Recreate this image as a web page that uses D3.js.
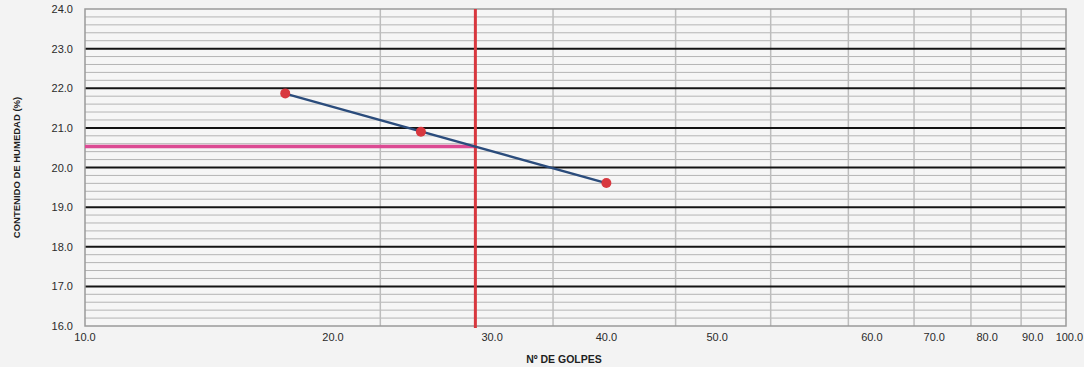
<!DOCTYPE html>
<html>
<head>
<meta charset="utf-8">
<script src="https://cdn.jsdelivr.net/npm/d3@7"></script>
<style>
  html, body { margin: 0; padding: 0; background: #f3f3f3; }
  svg { display: block; font-family: "Liberation Sans", Arial, sans-serif; }
</style>
</head>
<body>
<div id="chart"></div>
<script>
const chartEl = "#chart";
const width = 1084;
const height = 367;
const margin = { top: 9, right: 18, bottom: 41, left: 85 };

// Ensayo de limite liquido: golpes vs contenido de humedad
const golpes = [16, 22, 34];
const humedad = [21.87, 20.9, 19.61];
const golpesLimite = 25;  // vertical reference at 25 blows

// axis setup
const xDomain = [10, 100];
const yDomain = [16, 24];
const xGrid = [20, 30, 40, 50, 60, 70, 80, 90];
const yMajor = [17, 18, 19, 20, 21, 22, 23];
const yTicks = [16, 17, 18, 19, 20, 21, 22, 23, 24];
// the x tick labels in the original sit off the log gridlines;
// these are where each label appears along the log axis
const xTickLabels = ["10.0", "20.0", "30.0", "40.0", "50.0", "60.0", "70.0", "80.0", "90.0", "100.0"];
const xTickLabelAt = [10, 17.9, 26.0, 34.0, 44.1, 63.4, 73.4, 83.1, 92.5, 100.8];

const colRed = "#d8383f";
const colPink = "#dc4a93";
const colBlue = "#2b4c7c";

const plotW = width - margin.left - margin.right;
const plotH = height - margin.top - margin.bottom;

const x = d3.scaleLog().domain(xDomain).range([0, plotW]);
const y = d3.scaleLinear().domain(yDomain).range([plotH, 0]);

// least squares trend of humedad against log10(golpes)
function logFit(xs, ys) {
    var lx = xs.map(function(v) { return Math.log10(v); });
    var mx = d3.mean(lx), my = d3.mean(ys);
    var sxy = 0, sxx = 0;
    for (var i = 0; i < lx.length; i++) {
        sxy += (lx[i] - mx) * (ys[i] - my);
        sxx += (lx[i] - mx) * (lx[i] - mx);
    }
    var b = sxy / sxx;
    return function(v) { return my + b * (Math.log10(v) - mx); };
}
const fit = logFit(golpes, humedad);
const limiteLiquido = fit(golpesLimite);

const svg = d3.select(chartEl).append("svg")
    .attr("width", width)
    .attr("height", height);

const g = svg.append("g")
    .attr("transform", "translate(" + margin.left + "," + margin.top + ")");

g.append("rect")
    .attr("width", plotW)
    .attr("height", plotH)
    .attr("fill", "#f6f6f6");

// minor horizontal lines every 0.2
const yMinor = d3.range(yDomain[0] * 5, yDomain[1] * 5 + 1)
    .map(function(v) { return v / 5; })
    .filter(function(v) { return Math.abs(v - Math.round(v)) > 1e-6; });

g.append("g").selectAll("line")
    .data(yMinor)
    .join("line")
    .attr("x1", 0).attr("x2", plotW)
    .attr("y1", function(d) { return y(d); })
    .attr("y2", function(d) { return y(d); })
    .attr("stroke", "#b4b4b4")
    .attr("stroke-width", 1);

g.append("g").selectAll("line")
    .data(xGrid)
    .join("line")
    .attr("x1", function(d) { return x(d); })
    .attr("x2", function(d) { return x(d); })
    .attr("y1", 0).attr("y2", plotH)
    .attr("stroke", "#bdbdbd")
    .attr("stroke-width", 1.5);

g.append("g").selectAll("line")
    .data(yMajor)
    .join("line")
    .attr("x1", 0).attr("x2", plotW)
    .attr("y1", function(d) { return y(d); })
    .attr("y2", function(d) { return y(d); })
    .attr("stroke", "#141414")
    .attr("stroke-width", 2);

g.append("rect")
    .attr("width", plotW)
    .attr("height", plotH)
    .attr("fill", "none")
    .attr("stroke", "#9a9a9a")
    .attr("stroke-width", 1.5);

// y axis labels
const yAxis = d3.axisLeft(y).tickValues(yTicks).tickSize(0).tickPadding(12)
    .tickFormat(d3.format(".1f"));
g.append("g")
    .call(yAxis)
    .call(function(a) { a.select(".domain").remove(); })
    .selectAll("text")
    .attr("font-size", 11)
    .attr("font-family", "Liberation Sans, Arial, sans-serif")
    .attr("fill", "#2a2a2a");

// x tick labels
g.append("g").selectAll("text")
    .data(xTickLabels)
    .join("text")
    .attr("x", function(d, i) { return x(xTickLabelAt[i]); })
    .attr("y", plotH + 15)
    .attr("text-anchor", "middle")
    .attr("font-size", 11)
    .attr("fill", "#2a2a2a")
    .text(function(d) { return d; });

// reference lines
g.append("line")
    .attr("x1", x(xDomain[0])).attr("x2", x(golpesLimite))
    .attr("y1", y(limiteLiquido)).attr("y2", y(limiteLiquido))
    .attr("stroke", colPink)
    .attr("stroke-width", 3.5);

g.append("line")
    .attr("x1", x(golpesLimite)).attr("x2", x(golpesLimite))
    .attr("y1", 0).attr("y2", plotH + 2)
    .attr("stroke", colRed)
    .attr("stroke-width", 3);

// trend line across the range of the tests
const gMin = d3.min(golpes), gMax = d3.max(golpes);
g.append("line")
    .attr("x1", x(gMin)).attr("y1", y(fit(gMin)))
    .attr("x2", x(gMax)).attr("y2", y(fit(gMax)))
    .attr("stroke", colBlue)
    .attr("stroke-width", 2.5);

g.append("g").selectAll("circle")
    .data(golpes)
    .join("circle")
    .attr("cx", function(d) { return x(d); })
    .attr("cy", function(d, i) { return y(humedad[i]); })
    .attr("r", 5)
    .attr("fill", colRed);

// axis titles
svg.append("text")
    .attr("x", 564)
    .attr("y", 363)
    .attr("text-anchor", "middle")
    .attr("font-size", 10.5)
    .attr("font-weight", "bold")
    .attr("fill", "#1e1e1e")
    .text("Nº DE GOLPES");

svg.append("text")
    .attr("transform", "translate(20," + (margin.top + plotH / 2) + ") rotate(-90)")
    .attr("text-anchor", "middle")
    .attr("font-size", 9.5)
    .attr("font-weight", "bold")
    .attr("fill", "#1e1e1e")
    .text("CONTENIDO DE HUMEDAD (%)");
</script>
</body>
</html>
